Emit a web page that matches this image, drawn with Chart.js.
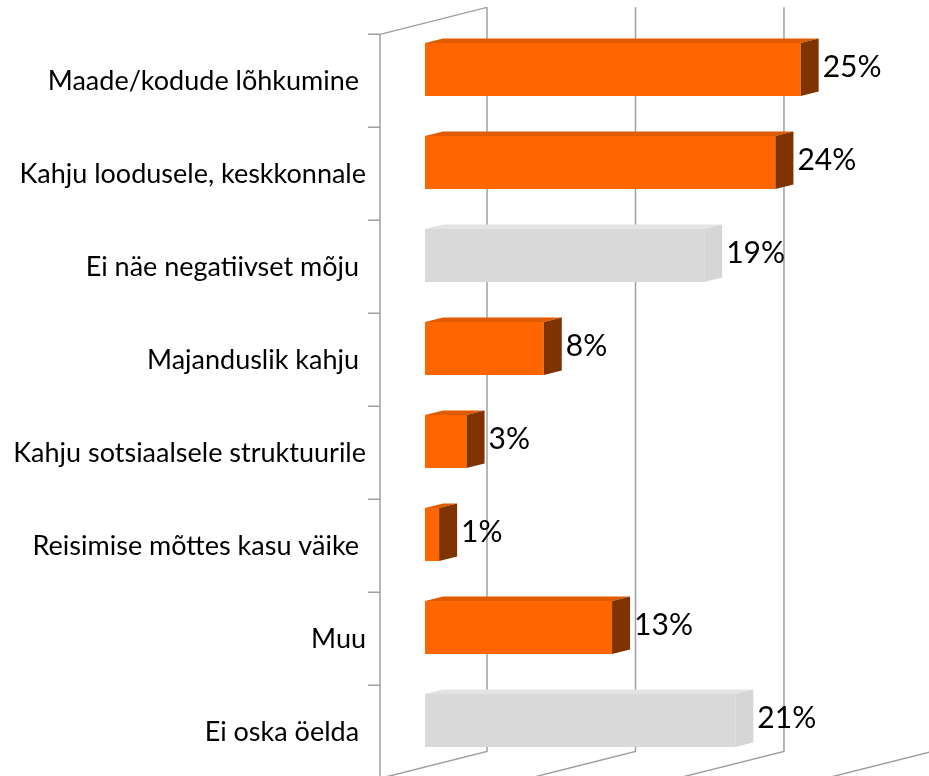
<!DOCTYPE html>
<html lang="et">
  <head>
    <meta charset="utf-8">
    <title>Negatiivne mõju</title>
    <script src="https://cdn.jsdelivr.net/npm/chart.js"></script>
    <style>
      body { margin: 0; background: #fff; }
      #wrap { width: 929px; height: 776px; position: relative; }
    </style>
  </head>
  <body>
    <div id="wrap">
      <canvas id="myChart"></canvas>
    </div>
    <script>
      // data
      const categories = ['Maade/kodude lõhkumine ', 'Kahju loodusele, keskkonnale', 'Ei näe negatiivset mõju ', 'Majanduslik kahju ',
                          'Kahju sotsiaalsele struktuurile', 'Reisimise mõttes kasu väike ', 'Muu', 'Ei oska öelda '];
      const values = [25.3, 23.6, 18.8, 8.0, 2.8, 0.95, 12.6, 20.9];
      const gridValues = [0, 10, 20, 30];

      const orange = '#FF6600';
      const grey = '#D9D9D9';
      const barColors = values.map((v, i) => (i === 2 || i === 7) ? grey : orange);

      // 3d look: bar depth and the offsets of the front and back walls
      const SLOPE = 27 / 107;
      const DEPTH = 18;
      const FRONT = -45;
      const BACK = 62;

      const box3d = {
        id: 'box3d',
        beforeDatasetsDraw(chart) {
          const ctx = chart.ctx;
          const xs = chart.scales.x;
          const area = chart.chartArea;
          const step = (area.bottom - area.top) / categories.length;
          const fx = area.left + FRONT;
          const fdy = -FRONT * SLOPE;
          const bdy = -BACK * SLOPE;
          ctx.save();
          ctx.strokeStyle = '#A0A0A0';
          ctx.lineWidth = 1.5;
          ctx.beginPath();
          // front axis with ticks
          ctx.moveTo(fx, area.top + fdy);
          ctx.lineTo(fx, area.bottom + fdy + 20);
          for (let i = 0; i <= categories.length; i++) {
            const y = area.top + fdy + i * step;
            ctx.moveTo(fx - 12, y);
            ctx.lineTo(fx, y);
          }
          // top edge of the side wall
          ctx.moveTo(fx, area.top + fdy);
          ctx.lineTo(xs.getPixelForValue(0) + BACK, area.top + bdy);
          // back wall grid lines and floor lines
          gridValues.forEach(v => {
            const px = xs.getPixelForValue(v) + BACK;
            ctx.moveTo(px, area.top + bdy);
            ctx.lineTo(px, area.bottom + bdy);
            ctx.lineTo(px - (BACK - FRONT), area.bottom + fdy);
          });
          ctx.stroke();
          ctx.restore();
        },
        afterDatasetsDraw(chart) {
          const ctx = chart.ctx;
          const meta = chart.getDatasetMeta(0);
          const dy = DEPTH * SLOPE;
          ctx.save();
          meta.data.forEach((bar, i) => {
            const p = bar.getProps(['x', 'y', 'base', 'height'], true);
            const top = p.y - p.height / 2;
            const bot = p.y + p.height / 2;
            const isGrey = barColors[i] === grey;
            // top face
            ctx.fillStyle = isGrey ? '#E3E3E3' : '#E05A00';
            ctx.beginPath();
            ctx.moveTo(p.base, top);
            ctx.lineTo(p.x, top);
            ctx.lineTo(p.x + DEPTH, top - dy);
            ctx.lineTo(p.base + DEPTH, top - dy);
            ctx.closePath();
            ctx.fill();
            // side face
            ctx.fillStyle = isGrey ? '#D6D6D6' : '#7F3300';
            ctx.beginPath();
            ctx.moveTo(p.x, top);
            ctx.lineTo(p.x + DEPTH, top - dy);
            ctx.lineTo(p.x + DEPTH, bot - dy);
            ctx.lineTo(p.x, bot);
            ctx.closePath();
            ctx.fill();
            // value label
            ctx.fillStyle = '#000';
            ctx.font = '30px Lato';
            ctx.textAlign = 'left';
            ctx.textBaseline = 'middle';
            ctx.fillText(Math.round(values[i]) + '%', p.x + DEPTH + 4, p.y - 2);
          });
          ctx.restore();
        }
      };

      new Chart(document.getElementById('myChart'), {
        type: 'bar',
        data: {
          labels: categories,
          datasets: [{
            data: values,
            backgroundColor: barColors,
            borderWidth: 0,
            barPercentage: 0.57,
            categoryPercentage: 1
          }]
        },
        options: {
          indexAxis: 'y',
          responsive: true,
          maintainAspectRatio: false,
          animation: false,
          layout: { padding: { left: 0, right: 14, top: 23, bottom: 9 } },
          plugins: { legend: { display: false }, tooltip: { enabled: false } },
          scales: {
            x: { display: false, min: 0, max: 33 },
            y: {
              afterFit(scale) {
                scale.width = 425;
                scale.paddingTop = 0;
                scale.paddingBottom = 0;
              },
              // invisible tick marks only push the labels left
              grid: { display: true, drawOnChartArea: false, drawTicks: true, tickLength: 59, color: 'transparent' },
              border: { display: false },
              ticks: {
                padding: 0,
                labelOffset: 12,
                color: '#000',
                font: { family: 'Lato', size: 27 }
              }
            }
          }
        },
        plugins: [box3d]
      });
    </script>
  </body>
</html>
